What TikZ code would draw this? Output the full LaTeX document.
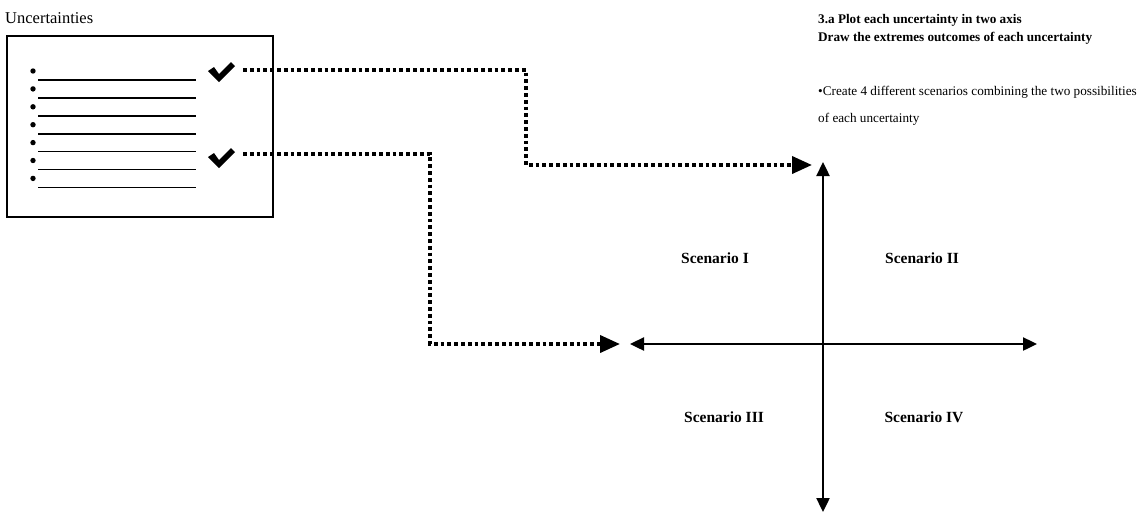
\documentclass[tikz,border=0pt]{standalone}
\usepackage{fontspec}
\setmainfont{Liberation Serif}
\usetikzlibrary{arrows.meta}

\begin{document}
\begin{tikzpicture}[x=1pt,y=-1pt,
  txt/.style={font=\fontsize{13.2}{15}\selectfont, inner sep=0pt, anchor=base west},
  bold/.style={txt, font=\fontsize{13.2}{15}\selectfont\bfseries},
  scen/.style={font=\fontsize{15.5}{17}\selectfont\bfseries, inner sep=0pt},
  listbox/.style={draw, line width=2pt, minimum width=266pt, minimum height=181pt, inner sep=0pt},
  dotlink/.style={line width=3.8pt, dash pattern=on 3.8pt off 3pt, line cap=butt,
    -{Triangle[length=20pt,width=17pt]}},
  tip/.style={-{Triangle[length=14pt,width=13pt]}},
  axis/.style={line width=2.4pt},
]
\useasboundingbox (0,0) rectangle (1143,512);

% list of uncertainties
\node[font=\fontsize{16.5}{18}\selectfont, inner sep=0pt, anchor=base west] (title) at (5,23) {Uncertainties};
\node[listbox] (list) at (140,126.5) {};
\foreach \k in {0,...,6} {
  \fill (33,{71+17.9*\k}) circle (2.7pt);
  \draw[line width=1.7pt] (38,{80+17.9*\k}) -- (196,{80+17.9*\k});
}

% check marks for the two selected items
\foreach \cy in {72,158} {
  \begin{scope}[shift={(208,\cy)}]
    \fill (0,-1) -- (6,-5) -- (11,2) -- (23,-10) -- (27,-6) -- (11,10) -- cycle;
  \end{scope}
}
\coordinate (chkA) at (243,70);
\coordinate (chkB) at (243,154);

% right-hand text
\node[bold] (head1) at (818,23) {3.a Plot each uncertainty in two axis};
\node[bold] (head2) at (818,41) {Draw the extremes outcomes of each uncertainty};
\node[txt] (note1) at (818,95) {•Create 4 different scenarios combining the two possibilities};
\node[txt] (note2) at (818,122) {of each uncertainty};

% the two axes
\coordinate (origin) at (823,344);
\coordinate (vtop) at (823,162);
\coordinate (vbot) at (823,512);
\coordinate (hleft) at (630,344);
\coordinate (hright) at (1037,344);
\draw[axis, tip] (origin) -- (vtop);
\draw[axis, tip] (origin) -- (vbot);
\draw[axis, tip] (origin) -- (hleft);
\draw[axis, tip] (origin) -- (hright);

% connectors from the selected uncertainties to the axes
\coordinate (endA) at (812,165);
\coordinate (endB) at (620,344);
\draw[dotlink] (chkA) -| (526,165) -- (endA);
\draw[dotlink] (chkB) -| (430,344) -- (endB);

% quadrant labels
\node[scen] (s1) at (715,258) {Scenario I};
\node[scen] (s2) at (922,258) {Scenario II};
\node[scen] (s3) at (724,417) {Scenario III};
\node[scen] (s4) at (924,417) {Scenario IV};
\end{tikzpicture}
\end{document}
